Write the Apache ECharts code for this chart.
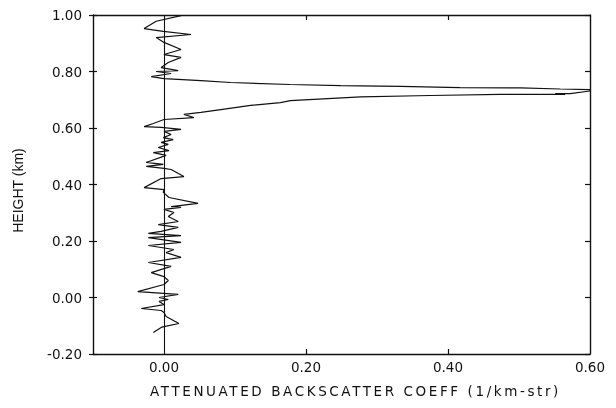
<!DOCTYPE html>
<html>
<head>
<meta charset="utf-8">
<script src="https://cdn.jsdelivr.net/npm/echarts@6/dist/echarts.min.js"></script>
<style>html,body{margin:0;padding:0;background:#fff}#c{width:616px;height:408px;filter:grayscale(1)}</style>
</head>
<body>
<div id="c"></div>
<script>
// Height (km) of each profile sample, top to bottom
const heights = [0.998,0.978,0.952,0.942,0.931,0.920,0.903,0.878,0.860,0.850,0.832,0.814,0.803,0.800,0.793,0.782,0.775,
  0.768,0.761,0.754,0.750,0.747,0.743,0.742,0.738,0.736,0.731,0.722,0.722,0.719,0.719,0.715,0.710,0.697,0.690,0.680,0.665,0.655,
  0.648,0.637,0.630,0.616,0.605,0.602,0.595,0.588,0.577,0.566,0.559,0.549,0.542,0.531,0.520,0.513,0.503,0.478,0.471,0.464,0.457,
  0.453,0.428,0.421,0.389,0.382,0.372,0.354,0.333,0.322,0.319,0.312,0.301,0.287,0.269,0.258,0.248,0.234,0.227,0.219,0.212,0.195,
  0.184,0.170,0.159,0.142,0.124,0.110,0.088,0.074,0.060,0.046,0.021,0.011,0.000,-0.007,-0.014,-0.025,-0.039,-0.046,-0.053,-0.067,
  -0.092,-0.103,-0.106,-0.124];
// Attenuated backscatter coefficient (1/km-str) at each height
const backscatter = [0.024,-0.011,-0.028,-0.001,0.038,-0.011,0.000,0.024,0.000,0.024,0.006,-0.004,0.020,-0.011,0.010,-0.018,0.000,
  0.052,0.094,0.178,0.249,0.333,0.417,0.502,0.558,0.600,0.600,0.572,0.551,0.565,0.473,0.375,0.277,0.178,0.164,0.122,0.080,0.052,
  0.028,0.042,0.000,-0.015,-0.028,-0.004,0.024,0.000,0.010,-0.001,0.013,-0.004,0.006,-0.008,0.007,-0.015,0.003,-0.025,-0.001,-0.025,0.000,
  0.010,0.028,-0.004,-0.028,0.000,-0.001,0.007,0.048,0.010,0.024,0.000,0.014,0.006,0.020,-0.008,0.020,-0.004,-0.022,0.024,-0.022,0.024,
  -0.022,0.014,0.003,0.024,-0.022,0.010,-0.018,0.000,0.006,0.000,-0.037,0.020,-0.007,0.006,-0.007,0.000,-0.032,-0.004,0.000,0.003,
  0.021,0.000,-0.004,-0.015];
const xTickLabels = [0.00, 0.20, 0.40, 0.60];
const yTickLabels = [-0.20, 0.00, 0.20, 0.40, 0.60, 0.80, 1.00];

const pts = heights.map((h, i) => [backscatter[i], h]);
const fontFam = '"DejaVu Sans", "Liberation Sans", Arial, sans-serif';
const fontFam2 = '"Liberation Sans", Arial, Helvetica, sans-serif';
const axLine = {show: true, onZero: false, lineStyle: {color: '#111', width: 1.4}};
const chart = echarts.init(document.getElementById('c'), null, {renderer: 'svg'});
chart.setOption({
  animation: false,
  grid: {left: 93, right: 26, top: 15, bottom: 54, containLabel: false},
  xAxis: [{
    type: 'value', min: -0.1, max: 0.6, position: 'bottom',
    axisLine: axLine, splitLine: {show: false},
    axisTick: {show: true, inside: true, length: 5, customValues: [0.2, 0.4], lineStyle: {color: '#111', width: 1.2}},
    axisLabel: {customValues: xTickLabels, formatter: v => v.toFixed(2), color: '#111', fontSize: 13.5, fontFamily: fontFam, margin: 6},
    name: 'ATTENUATED BACKSCATTER COEFF (1/km-str)', nameLocation: 'middle', nameGap: 30,
    nameTextStyle: {color: '#111', fontSize: 13.5, fontFamily: fontFam, padding: [0, 0, 0, 28]}
  }, {
    type: 'value', min: -0.1, max: 0.6, position: 'top',
    axisLine: axLine, splitLine: {show: false}, axisLabel: {show: false},
    axisTick: {show: true, inside: true, length: 5, customValues: [0.2, 0.4], lineStyle: {color: '#111', width: 1.2}}
  }],
  yAxis: [{
    type: 'value', min: -0.2, max: 1.0, interval: 0.2, position: 'left',
    axisLine: axLine, splitLine: {show: false},
    axisTick: {show: true, inside: true, length: 4, lineStyle: {color: '#111', width: 1.2}},
    axisLabel: {customValues: yTickLabels, formatter: v => v.toFixed(2), color: '#111', fontSize: 13.5, fontFamily: fontFam, margin: 11},
    name: 'HEIGHT (km)', nameLocation: 'middle', nameGap: 75, nameRotate: 90,
    nameTextStyle: {color: '#111', fontSize: 14, fontFamily: fontFam2, padding: [0, 12, 0, 0], verticalAlign: 'middle', align: 'center', lineHeight: 16}
  }, {
    type: 'value', min: -0.2, max: 1.0, interval: 0.2, position: 'right',
    axisLine: axLine, splitLine: {show: false}, axisLabel: {show: false},
    axisTick: {show: true, inside: true, length: 5, lineStyle: {color: '#111', width: 1.2}}
  }, {
    type: 'value', min: -0.2, max: 1.0, interval: 0.2, position: 'left',
    axisLine: {show: false, onZero: false}, splitLine: {show: false}, axisLabel: {show: false},
    axisTick: {show: true, inside: false, length: 4, lineStyle: {color: '#111', width: 1.2}}
  }],
  series: [{
    type: 'line', data: pts, xAxisIndex: 0, yAxisIndex: 0,
    symbol: 'none', smooth: false, clip: true,
    lineStyle: {color: '#111', width: 1.2},
    markLine: {
      silent: true, symbol: ['none', 'none'], label: {show: false},
      lineStyle: {color: '#111', width: 1.1, type: 'solid'},
      data: [{xAxis: 0}]
    }
  }]
});
document.querySelectorAll('#c text').forEach(t => {
  if (t.textContent.indexOf('ATTENUATED') === 0) t.setAttribute('letter-spacing', '2.6');
});
</script>
</body>
</html>
